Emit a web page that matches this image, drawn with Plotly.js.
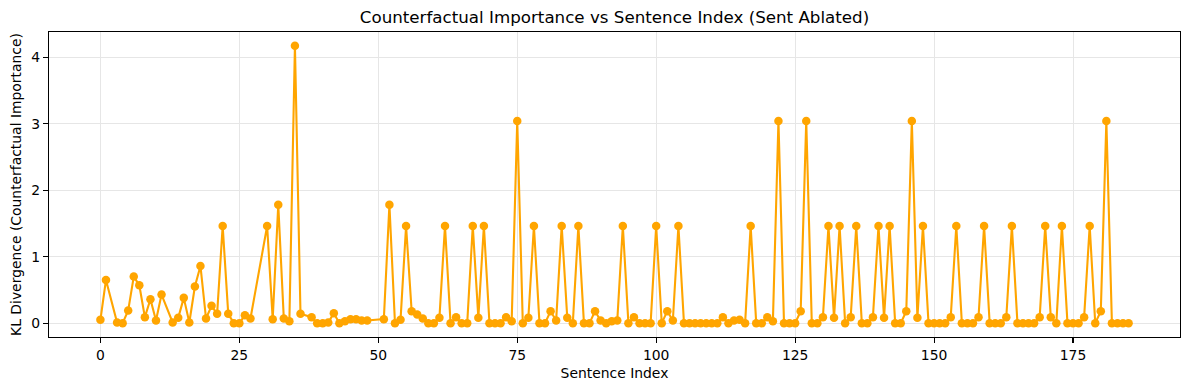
<!DOCTYPE html>
<html>
<head>
<meta charset="utf-8">
<script src="https://cdn.plot.ly/plotly-3.0.1.min.js"></script>
<style>html,body{margin:0;padding:0;background:#fff;}#chart{width:1189px;height:390px;}</style>
</head>
<body>
<div id="chart"></div>
<script>
var sentenceIndex = [0,1,3,4,5,6,7,8,9,10,11,
  13,14,15,16,17,18,19,20,21,22,23,24,25,26,27,
  30,31,32,33,34,35,36,
  38,39,40,41,42,43,44,45,46,47,48,
  51,52,53,54,55,56,57,58,59,60,
  61,62,63,64,65,66,67,68,69,70,
  71,72,73,74,75,76,77,78,79,80,
  81,82,83,84,85,86,87,88,89,90,
  91,92,93,94,95,96,97,98,99,100,
  101,102,103,104,105,106,107,108,109,110,
  111,112,113,114,115,116,117,118,119,120,
  121,122,123,124,125,126,127,128,129,130,
  131,132,133,134,135,136,137,138,139,140,
  141,142,143,144,145,146,147,148,149,150,
  151,152,153,154,155,156,157,158,159,160,
  161,162,163,164,165,166,167,168,169,170,
  171,172,173,174,175,176,177,178,179,180,
  181,182,183,184,185];

var klDivergence = [0.05,0.65,0.01,0.0,0.19,0.70,0.57,0.09,0.36,0.04,0.43,
  0.01,0.08,0.38,0.01,0.55,0.86,0.07,0.26,0.14,1.46,0.14,0.0,0.0,0.12,0.07,
  1.46,0.06,1.78,0.07,0.03,4.17,0.14,
  0.09,0.0,0.0,0.01,0.15,0.0,0.03,0.06,0.06,0.04,0.04,
  0.06,1.78,0.0,0.05,1.46,0.18,0.13,0.07,0.0,0.0,
  0.08,1.46,0.0,0.09,0.0,0.0,1.46,0.08,1.46,0.0,
  0.0,0.0,0.09,0.03,3.04,0.0,0.08,1.46,0.0,0.0,
  0.18,0.04,1.46,0.08,0.0,1.46,0.0,0.0,0.18,0.04,
  0.0,0.03,0.04,1.46,0.0,0.09,0.0,0.0,0.0,1.46,
  0.0,0.18,0.04,1.46,0.0,0.0,0.0,0.0,0.0,0.0,
  0.0,0.09,0.0,0.04,0.05,0.0,1.46,0.0,0.0,0.09,
  0.03,3.04,0.0,0.0,0.0,0.18,3.04,0.0,0.0,0.09,
  1.46,0.08,1.46,0.0,0.09,1.46,0.0,0.0,0.09,1.46,
  0.08,1.46,0.0,0.0,0.18,3.04,0.08,1.46,0.0,0.0,
  0.0,0.0,0.09,1.46,0.0,0.0,0.0,0.09,1.46,0.0,
  0.0,0.0,0.09,1.46,0.0,0.0,0.0,0.0,0.09,1.46,
  0.09,0.0,1.46,0.0,0.0,0.0,0.09,1.46,0.0,0.18,
  3.04,0.0,0.0,0.0,0.0];

var xTicks = [0,25,50,75,100,125,150,175];
var yTicks = [0,1,2,3,4];

var titleText = "Counterfactual Importance vs Sentence Index (Sent Ablated)";
var xLabel = "Sentence Index";
var yLabel = "KL Divergence (Counterfactual Importance)";

function padRange(arr){
  var mn = Math.min.apply(null, arr), mx = Math.max.apply(null, arr);
  var p = (mx - mn) * 0.05;
  return [mn - p, mx + p];
}

var trace = {
  x: sentenceIndex,
  y: klDivergence,
  type: 'scatter',
  mode: 'lines+markers',
  line: {color: '#FFA500', width: 2.1},
  marker: {color: '#FFA500', size: 8.5},
  hoverinfo: 'x+y'
};

var axisCommon = {
  showline: true, mirror: true, linecolor: '#000', linewidth: 1.1,
  ticks: 'outside', ticklen: 5, tickwidth: 1.1, tickcolor: '#000',
  showgrid: true, gridcolor: '#e6e6e6', gridwidth: 1,
  zeroline: false,
  tickfont: {family: 'DejaVu Sans', size: 13.9, color: '#000'}
};

var layout = {
  width: 1189, height: 390,
  paper_bgcolor: '#fff', plot_bgcolor: '#fff',
  margin: {l: 49, r: 9, t: 32, b: 53},
  showlegend: false,
  font: {family: 'DejaVu Sans', color: '#000'},
  title: {text: titleText, font: {family: 'DejaVu Sans', size: 16.7, color: '#000'},
          x: 0.5, xref: 'paper', y: 1 - 17.5/390, yref: 'container', yanchor: 'middle'},
  xaxis: Object.assign({}, axisCommon, {
    range: padRange(sentenceIndex), tickvals: xTicks, ticktext: xTicks.map(String),
    title: {text: xLabel, font: {family: 'DejaVu Sans', size: 13.9, color: '#000'}, standoff: 6}
  }),
  yaxis: Object.assign({}, axisCommon, {
    range: padRange(klDivergence), tickvals: yTicks, ticktext: yTicks.map(String),
    title: {text: yLabel, font: {family: 'DejaVu Sans', size: 13.9, color: '#000'}, standoff: 6}
  })
};

Plotly.newPlot('chart', [trace], layout, {displayModeBar: false, staticPlot: true});
</script>
</body>
</html>
